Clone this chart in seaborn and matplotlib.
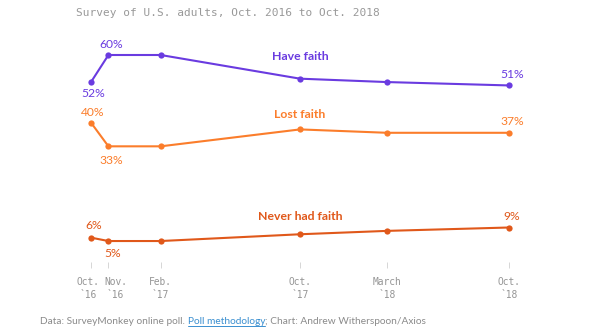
import matplotlib
matplotlib.use("Agg")
import matplotlib.pyplot as plt
from matplotlib.lines import Line2D
from matplotlib.transforms import ScaledTranslation
import seaborn as sns
import pandas as pd

# ---- data ----
months = [0, 1, 4, 12, 17, 24]  # months since Oct. 2016
tick_labels = ["Oct.\n`16", "Nov.\n`16", "Feb.\n`17", "Oct.\n`17", "March\n`18", "Oct.\n`18"]
have_faith = [52, 60, 60, 53, 52, 51]
lost_faith = [40, 33, 33, 38, 37, 37]
never_had_faith = [6, 5, 5, 7, 8, 9]
series_names = ["Have faith", "Lost faith", "Never had faith"]
colors = ["#6a3be0", "#fb7d2b", "#e0581a"]

rows = []
for name, vals in zip(series_names, [have_faith, lost_faith, never_had_faith]):
    for m, v in zip(months, vals):
        rows.append({"month": m, "value": v, "series": name})
df = pd.DataFrame(rows)

sns.set_theme(style="white")
plt.rcParams["font.family"] = ["Lato", "DejaVu Sans"]

fig = plt.figure(figsize=(5.97, 3.36), dpi=100)
ax = fig.add_axes([91 / 597, 1 - 262 / 336, (509 - 91) / 597, (262 - 55) / 336])

sns.lineplot(data=df, x="month", y="value", hue="series", hue_order=series_names,
             palette=colors, marker="o", markersize=4.5, markeredgewidth=0,
             linewidth=1.5, legend=False, ax=ax, clip_on=False)

ax.set_xlim(0, 24)
ax.set_ylim(-1.2, 60)
for s in ax.spines.values():
    s.set_visible(False)
ax.set_yticks([])
ax.set_xticks(months)
ax.set_xticklabels(tick_labels, family=["DejaVu Sans Mono"], fontsize=6.9,
                   color="#959595", linespacing=1.35)
ax.tick_params(axis="x", direction="out", length=4.5, width=0.6, color="#d0d0d0",
               pad=6.5, bottom=True)
ax.set_xlabel("")
ax.set_ylabel("")
# nudge the crowded first two labels apart (pixels)
for lab, dx in zip(ax.get_xticklabels(), [-3, 7, 0, 0, 0, 0]):
    if dx:
        lab.set_transform(lab.get_transform() + ScaledTranslation(dx / 100, 0, fig.dpi_scale_trans))

# value labels (offsets in pixels)
label_specs = [
    (have_faith, 0, (2, -11)), (have_faith, 1, (3, 11)), (have_faith, 5, (3, 11)),
    (lost_faith, 0, (2, 10)), (lost_faith, 1, (3, -14)), (lost_faith, 5, (3, 11)),
    (never_had_faith, 0, (3, 12)), (never_had_faith, 1, (4, -12)), (never_had_faith, 5, (3, 11)),
]
series_color = {id(have_faith): colors[0], id(lost_faith): colors[1], id(never_had_faith): colors[2]}
for vals, i, off in label_specs:
    ax.annotate(f"{vals[i]}%", (months[i], vals[i]), xytext=off, textcoords="offset pixels",
                ha="center", va="center", fontsize=8.7, color=series_color[id(vals)],
                annotation_clip=False)

# series names
for name, col, yv in zip(series_names, colors, [59.7, 42.5, 12.2]):
    ax.text(12, yv, name, ha="center", va="center", fontsize=8.8, color=col,
            fontweight="bold")

# title
fig.text(76 / 597, 1 - 13 / 336, "Survey of U.S. adults, Oct. 2016 to Oct. 2018",
         family=["DejaVu Sans Mono"], fontsize=8.0, color="#999999", ha="left", va="center")

# footer
fs = 7.3
fy = 1 - 322 / 336
t1 = fig.text(40 / 597, fy, "Data: SurveyMonkey online poll. ", fontsize=fs,
              color="#8a8a8a", ha="left", va="center")
t2 = ax.annotate("Poll methodology", xy=(1, 0.5), xycoords=t1, ha="left", va="center",
                 fontsize=fs, color="#3a8fd0", annotation_clip=False)
t3 = ax.annotate("; Chart: Andrew Witherspoon/Axios", xy=(1, 0.5), xycoords=t2,
                 ha="left", va="center", fontsize=fs, color="#8a8a8a", annotation_clip=False)
fig.canvas.draw()
bb = t2.get_window_extent()
inv = fig.transFigure.inverted()
(x0, y0), (x1, _) = inv.transform([(bb.x0, bb.y0 + 1), (bb.x1, bb.y0 + 1)])
fig.add_artist(Line2D([x0, x1], [y0, y0], transform=fig.transFigure, color="#3a8fd0",
                      linewidth=0.7))

fig.savefig("out.png", dpi=100)
